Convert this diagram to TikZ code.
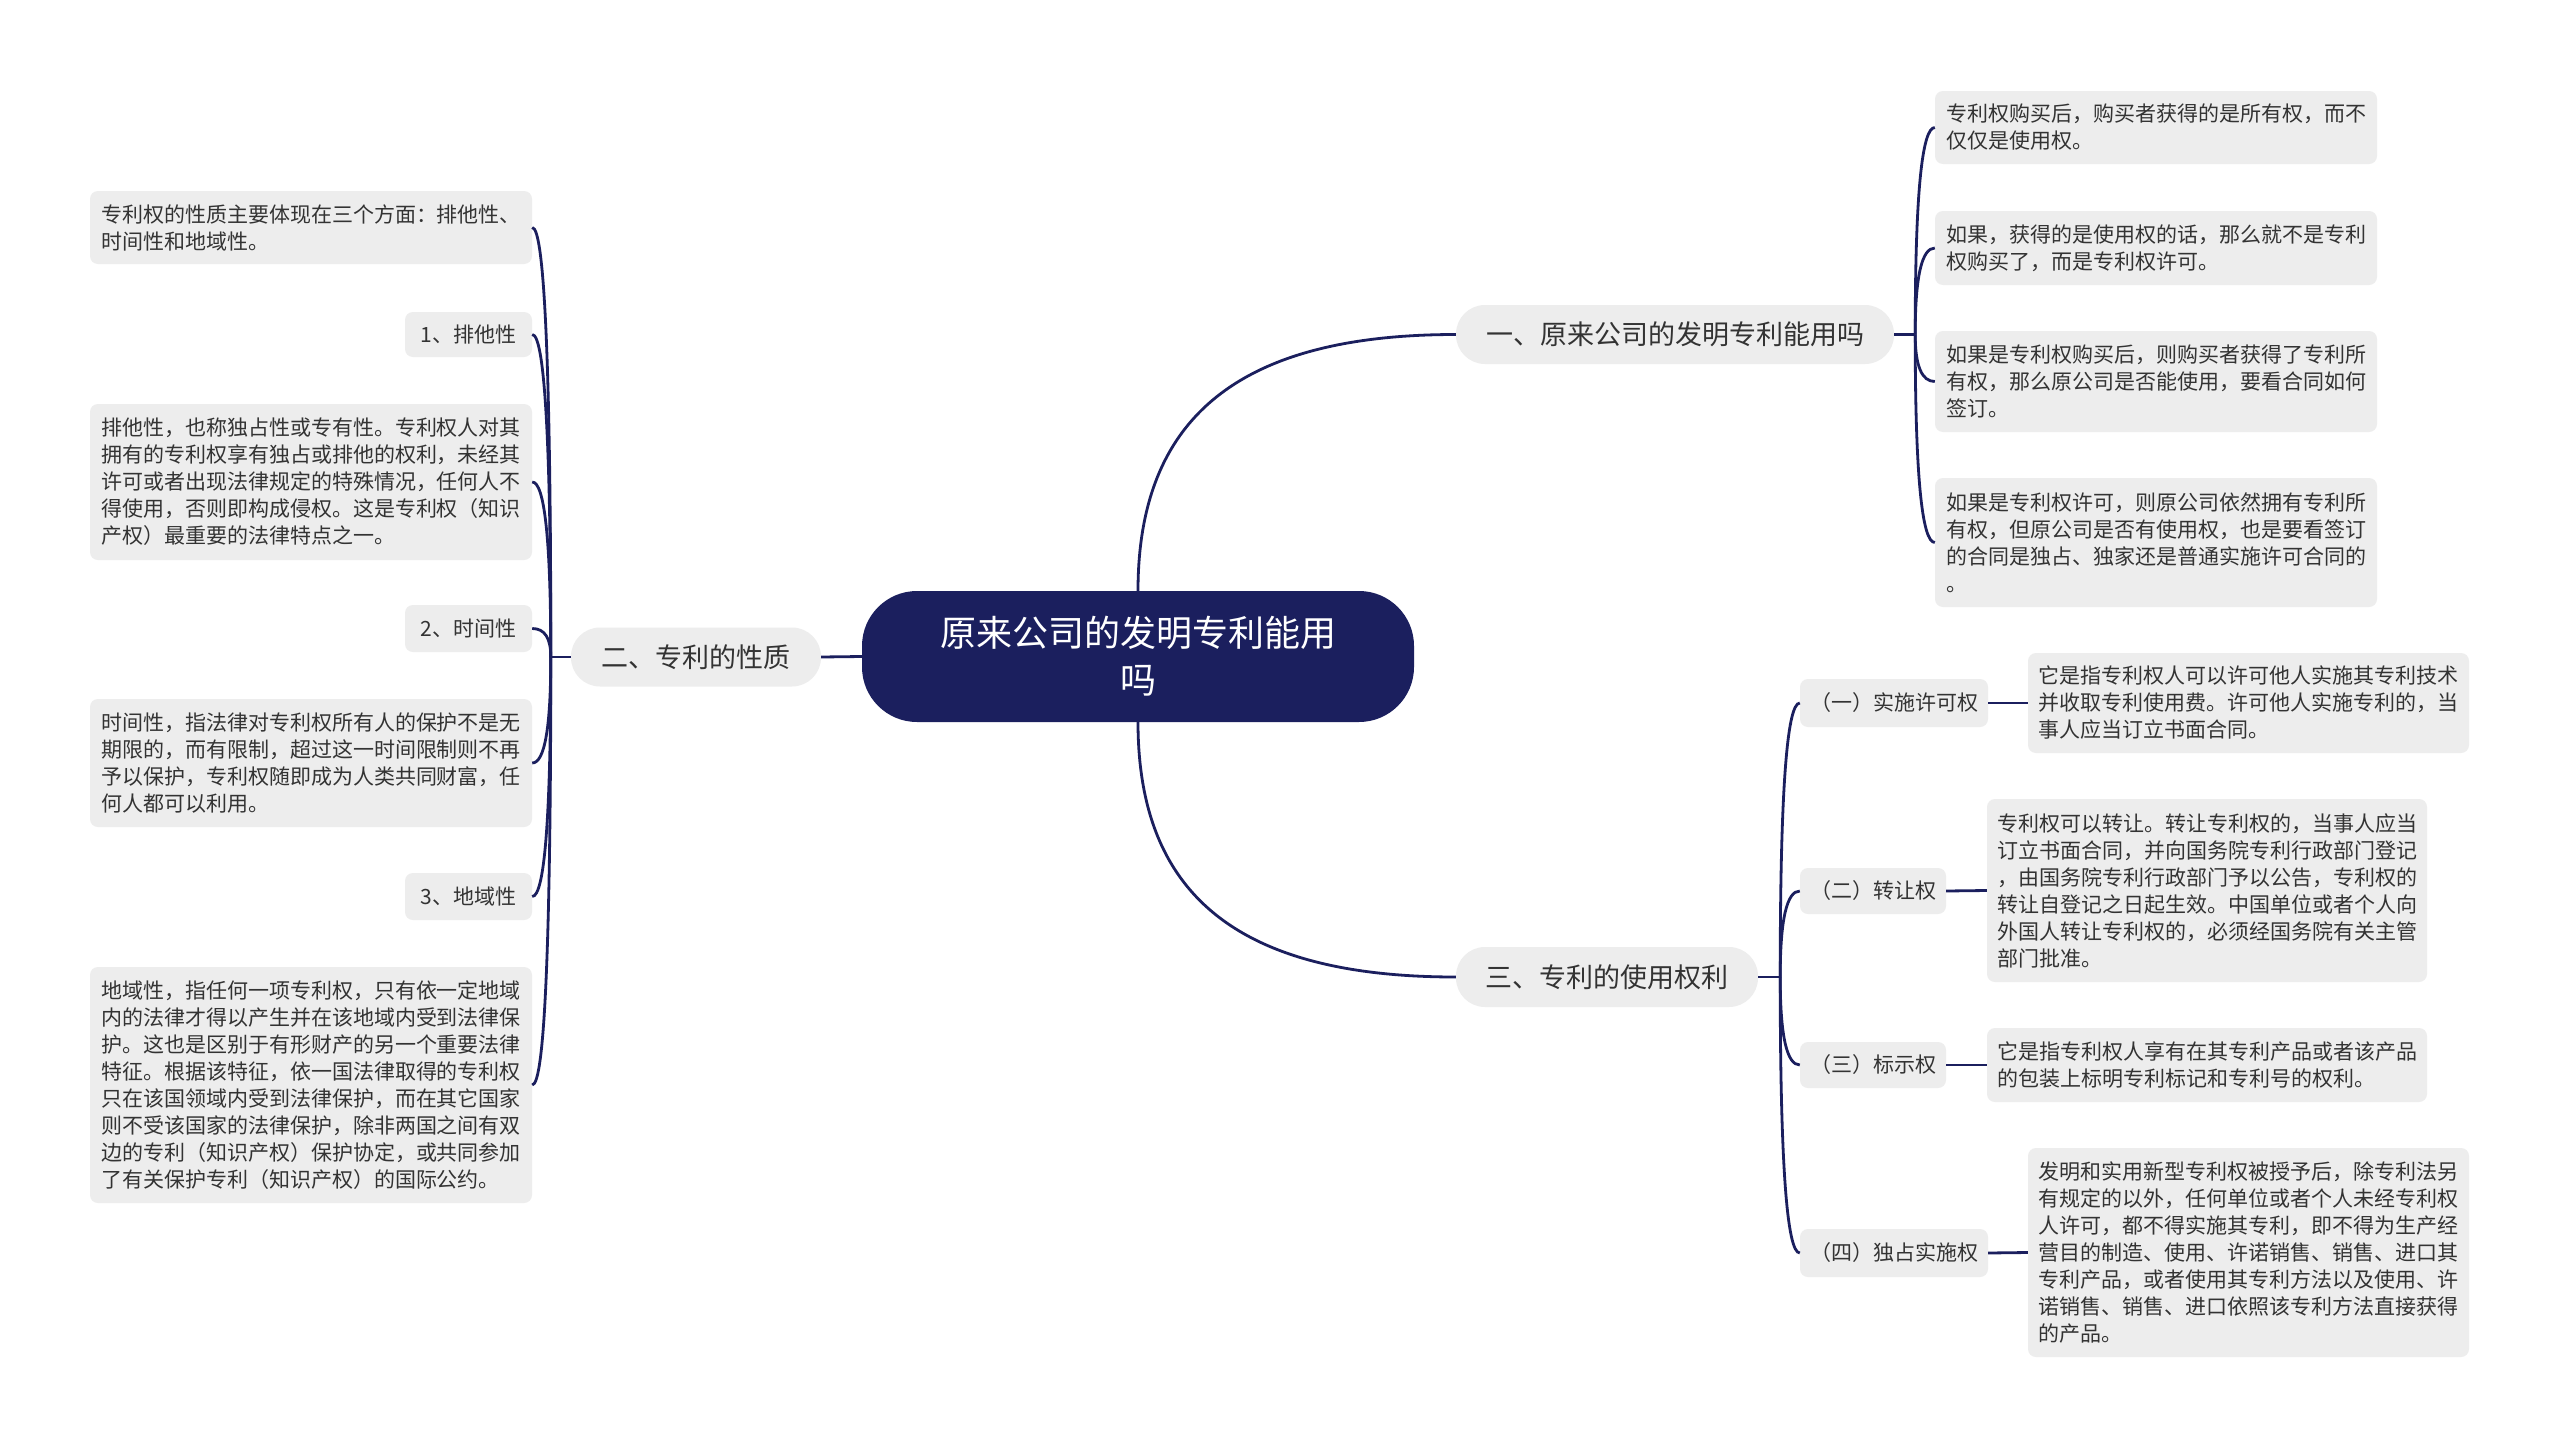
\documentclass[tikz,border=0pt]{standalone}
\usepackage{fontspec}
\setmainfont{Noto Sans CJK SC}
\usetikzlibrary{calc}
\definecolor{navy}{HTML}{1B1F5E}
\definecolor{boxgray}{HTML}{EDEDED}
\definecolor{txt}{HTML}{333333}
\newcommand{\mmbranch}[2]{\draw[conn] (#1) .. controls ($(#1)!0.667!(#1 |- #2)$) and ($(#2)!0.667!(#1 |- #2)$) .. (#2);}
\begin{document}
\begin{tikzpicture}[x=1pt,y=-1pt,
 conn/.style={draw=navy,line width=2.8pt},
 base/.style={fill=boxgray,text=txt,inner sep=0pt},
 leaf/.style={base,rounded corners=8pt,align=left,font=\fontsize{21}{27}\selectfont},
 sub/.style={base,rounded corners=8pt,font=\fontsize{21}{27}\selectfont},
 topic/.style={base,rounded corners=29pt,font=\fontsize{27}{34}\selectfont,minimum height=59pt},
 rootbox/.style={fill=navy,text=white,rounded corners=55pt,inner sep=0pt,align=center,font=\fontsize{36}{47}\selectfont}
]
\useasboundingbox (0,0) rectangle (2560,1448);
\fill[white] (0,0) rectangle (2560,1448);

% root
\node[rootbox,minimum width=552pt,minimum height=131pt] (root) at (1138,656.5) {原来公司的发明专利能用\\吗};

% main topics
\node[topic,minimum width=250pt] (L2) at (696,657) {二、专利的性质};
\node[topic,minimum width=438pt] (R1) at (1675,334.5) {一、原来公司的发明专利能用吗};
\node[topic,minimum width=302pt,minimum height=60pt] (R3) at (1607,977) {三、专利的使用权利};

% left leaves
\node[leaf,minimum width=442pt,minimum height=73pt] (A0) at (311,227.5) {专利权的性质主要体现在三个方面：排他性、\\时间性和地域性。};
\node[sub,minimum width=127pt,minimum height=45pt] (A1) at (468.5,334.5) {1、排他性};
\node[leaf,minimum width=442pt,minimum height=156pt] (A2) at (311,482) {排他性，也称独占性或专有性。专利权人对其\\拥有的专利权享有独占或排他的权利，未经其\\许可或者出现法律规定的特殊情况，任何人不\\得使用，否则即构成侵权。这是专利权（知识\\产权）最重要的法律特点之一。};
\node[sub,minimum width=127pt,minimum height=47pt] (A3) at (468.5,628.5) {2、时间性};
\node[leaf,minimum width=442pt,minimum height=128pt] (A4) at (311,763) {时间性，指法律对专利权所有人的保护不是无\\期限的，而有限制，超过这一时间限制则不再\\予以保护，专利权随即成为人类共同财富，任\\何人都可以利用。};
\node[sub,minimum width=127pt,minimum height=47pt] (A5) at (468.5,896.5) {3、地域性};
\node[leaf,minimum width=442pt,minimum height=236pt] (A6) at (311,1085) {地域性，指任何一项专利权，只有依一定地域\\内的法律才得以产生并在该地域内受到法律保\\护。这也是区别于有形财产的另一个重要法律\\特征。根据该特征，依一国法律取得的专利权\\只在该国领域内受到法律保护，而在其它国家\\则不受该国家的法律保护，除非两国之间有双\\边的专利（知识产权）保护协定，或共同参加\\了有关保护专利（知识产权）的国际公约。};

% right top leaves
\node[leaf,minimum width=442pt,minimum height=73pt] (B1) at (2156,127.5) {专利权购买后，购买者获得的是所有权，而不\\仅仅是使用权。};
\node[leaf,minimum width=442pt,minimum height=74pt] (B2) at (2156,248) {如果，获得的是使用权的话，那么就不是专利\\权购买了，而是专利权许可。};
\node[leaf,minimum width=442pt,minimum height=101pt] (B3) at (2156,381.5) {如果是专利权购买后，则购买者获得了专利所\\有权，那么原公司是否能使用，要看合同如何\\签订。};
\node[leaf,minimum width=442pt,minimum height=129pt] (B4) at (2156,542.5) {如果是专利权许可，则原公司依然拥有专利所\\有权，但原公司是否有使用权，也是要看签订\\的合同是独占、独家还是普通实施许可合同的\\。};

% right bottom
\node[sub,minimum width=188pt,minimum height=48pt] (C1) at (1894,703) {（一）实施许可权};
\node[leaf,minimum width=441pt,minimum height=100pt] (C1L) at (2248.5,703) {它是指专利权人可以许可他人实施其专利技术\\并收取专利使用费。许可他人实施专利的，当\\事人应当订立书面合同。};
\node[sub,minimum width=146pt,minimum height=46pt] (C2) at (1873,891) {（二）转让权};
\node[leaf,minimum width=440pt,minimum height=183pt] (C2L) at (2207,890.5) {专利权可以转让。转让专利权的，当事人应当\\订立书面合同，并向国务院专利行政部门登记\\，由国务院专利行政部门予以公告，专利权的\\转让自登记之日起生效。中国单位或者个人向\\外国人转让专利权的，必须经国务院有关主管\\部门批准。};
\node[sub,minimum width=146pt,minimum height=46pt] (C3) at (1873,1065) {（三）标示权};
\node[leaf,minimum width=440pt,minimum height=74pt] (C3L) at (2207,1065) {它是指专利权人享有在其专利产品或者该产品\\的包装上标明专利标记和专利号的权利。};
\node[sub,minimum width=188pt,minimum height=48pt] (C4) at (1894,1253) {（四）独占实施权};
\node[leaf,minimum width=441pt,minimum height=209pt] (C4L) at (2248.5,1252.5) {发明和实用新型专利权被授予后，除专利法另\\有规定的以外，任何单位或者个人未经专利权\\人许可，都不得实施其专利，即不得为生产经\\营目的制造、使用、许诺销售、销售、进口其\\专利产品，或者使用其专利方法以及使用、许\\诺销售、销售、进口依照该专利方法直接获得\\的产品。};

% root connectors
\draw[conn] (root.west) -- (L2.east);
\draw[conn] (root.north) .. controls +(0,-174) and +(-216,0) .. (R1.west);
\draw[conn] (root.south) .. controls +(0,174) and +(-216,0) .. (R3.west);

% trunks
\draw[conn] (L2.west) -- ++(-20,0) coordinate (tL);
\draw[conn] (R1.east) -- ++(21,0) coordinate (tR1);
\draw[conn] (R3.east) -- ++(22,0) coordinate (tR3);

\mmbranch{tL}{A0.east}
\mmbranch{tL}{A1.east}
\mmbranch{tL}{A2.east}
\mmbranch{tL}{A3.east}
\mmbranch{tL}{A4.east}
\mmbranch{tL}{A5.east}
\mmbranch{tL}{A6.east}

\mmbranch{tR1}{B1.west}
\mmbranch{tR1}{B2.west}
\mmbranch{tR1}{B3.west}
\mmbranch{tR1}{B4.west}

\mmbranch{tR3}{C1.west}
\mmbranch{tR3}{C2.west}
\mmbranch{tR3}{C3.west}
\mmbranch{tR3}{C4.west}

\draw[conn] (C1.east) -- (C1L.west);
\draw[conn] (C2.east) -- (C2L.west);
\draw[conn] (C3.east) -- (C3L.west);
\draw[conn] (C4.east) -- (C4L.west);
\end{tikzpicture}
\end{document}
